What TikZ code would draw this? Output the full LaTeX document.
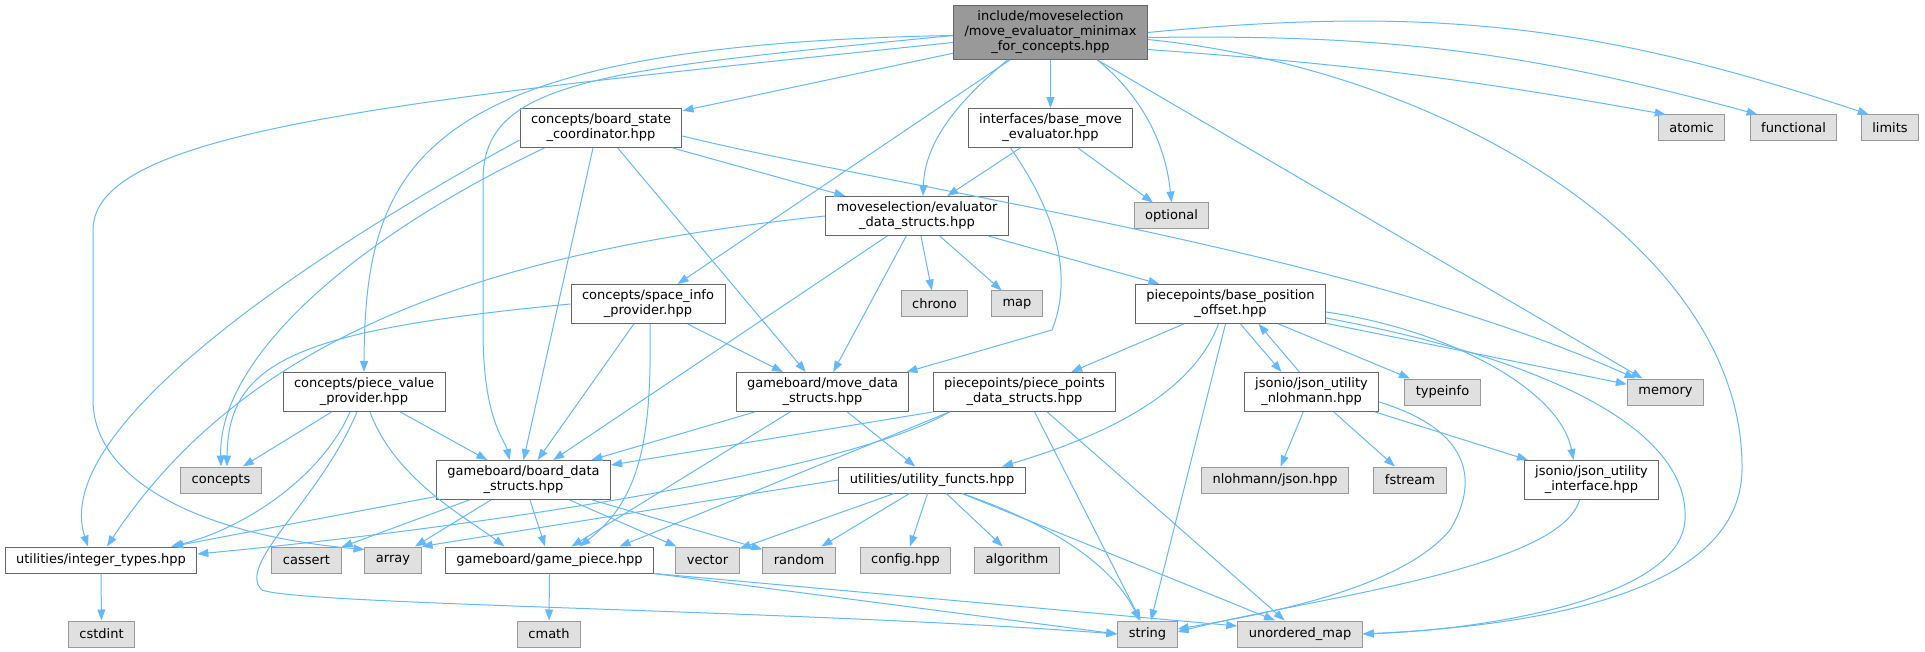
\documentclass[tikz,border=0pt]{standalone}
\usepackage{fontspec}
\setmainfont{DejaVu Sans}
\usetikzlibrary{arrows.meta}
\definecolor{steelblue}{HTML}{63B8FF}
\definecolor{grey40}{HTML}{666666}
\definecolor{grey60}{HTML}{999999}
\definecolor{grey90}{HTML}{E0E0E0}
\tikzstyle{header}=[draw=grey40,fill=white,line width=1pt,inner xsep=11pt,inner ysep=5.5pt,minimum height=26pt,align=center,font=\fontsize{13}{15}\selectfont]
\tikzstyle{sysheader}=[header,draw=grey60,fill=grey90]
\tikzstyle{rootheader}=[header,draw=grey40,fill=grey60]
\tikzstyle{incl}=[draw=steelblue,line width=1pt,-{Triangle[length=11pt,width=8pt]}]

\begin{document}
\begin{tikzpicture}[x=1pt,y=1pt]
    \useasboundingbox (0,0) rectangle (1925,-652);

    % project headers
    \node[rootheader] (root) at (1050.5,-32.5) {include/moveselection\\/move\_evaluator\_minimax\\\_for\_concepts.hpp};
    \node[header] (bsc) at (601,-128) {concepts/board\_state\\\_coordinator.hpp};
    \node[header] (bme) at (1050.5,-128) {interfaces/base\_move\\\_evaluator.hpp};
    \node[header] (eds) at (917,-216) {moveselection/evaluator\\\_data\_structs.hpp};
    \node[header] (sip) at (648,-304) {concepts/space\_info\\\_provider.hpp};
    \node[header] (bpo) at (1230.5,-304) {piecepoints/base\_position\\\_offset.hpp};
    \node[header] (pvp) at (364,-392) {concepts/piece\_value\\\_provider.hpp};
    \node[header] (mds) at (822.5,-392) {gameboard/move\_data\\\_structs.hpp};
    \node[header] (ppds) at (1024.5,-392) {piecepoints/piece\_points\\\_data\_structs.hpp};
    \node[header] (jun) at (1311.5,-392) {jsonio/json\_utility\\\_nlohmann.hpp};
    \node[header] (bds) at (523.5,-480) {gameboard/board\_data\\\_structs.hpp};
    \node[header] (uf) at (932,-480) {utilities/utility\_functs.hpp};
    \node[header] (jui) at (1591.5,-480) {jsonio/json\_utility\\\_interface.hpp};
    \node[header] (it) at (101,-560) {utilities/integer\_types.hpp};
    \node[header] (gp) at (549.5,-560) {gameboard/game\_piece.hpp};

    % system headers
    \foreach \pos/ \name / \label in {{(1691.5,-128)/atomic/atomic}, {(1793.5,-128)/functional/functional},
        {(1890,-128)/limits/limits}, {(1171.5,-216)/optional/optional}, {(934.5,-304)/chrono/chrono},
        {(1017,-304)/map/map}, {(1442.5,-392)/typeinfo/typeinfo}, {(1665.5,-392)/memory/memory},
        {(221,-480)/concepts/concepts}, {(1410,-480)/fstream/fstream},
        {(306.5,-560)/cassert/cassert}, {(393,-560)/array/array}, {(707.5,-560)/vector/vector},
        {(799,-560)/random/random}, {(905.5,-560)/config/config.hpp}, {(1017,-560)/algorithm/algorithm},
        {(101.5,-634)/cstdint/cstdint}, {(549,-634)/cmath/cmath}, {(1147.5,-634)/string/string},
        {(1300,-634)/umap/unordered\_map}}
        \node[sysheader] (\name) at \pos {\label};
    \node[sysheader] (njson) at (1275,-480) {nlohmann/json.hpp};

    % Connect headers with straight edges
    \foreach \source/ \dest in {root/bsc, root/bme, root/sip, root/memory, bsc/mds, bsc/eds, bme/eds, bme/optional,
        eds/bds, eds/mds, eds/chrono, eds/map, eds/bpo, sip/bds, sip/mds, pvp/concepts, pvp/bds,
        mds/bds, mds/gp, mds/uf, ppds/string, ppds/umap, bpo/ppds, bpo/string, bpo/typeinfo, bpo/memory,
        jun/njson, jun/fstream, jun/jui, uf/vector, uf/random, uf/config, uf/algorithm,
        bds/it, bds/cassert, bds/array, bds/gp, bds/vector, bds/random, gp/cmath, it/cstdint}
        \draw[incl] (\source) -- (\dest);

    % edges leaving the root
    \draw[incl] ([xshift=-43pt]root.south) .. controls (960,-100) and (925,-140) .. ([xshift=6pt]eds.north);
    \draw[incl] ([xshift=47pt]root.south) .. controls (1140,-95) and (1165,-140) .. (optional.north);
    \draw[incl] ([yshift=-3pt]root.west) .. controls (420,-45) and (365,-160) .. (pvp.north);
    \draw[incl] ([yshift=-3pt]root.west) .. controls (600,-70) and (483,-80) .. (483,-180) -- (483,-330)
        .. controls (483,-420) and (505,-440) .. ([xshift=-14pt]bds.north);
    \draw[incl] ([yshift=-10pt]root.west) .. controls (400,-100) and (93,-130) .. (93,-230) -- (93,-400)
        .. controls (93,-480) and (200,-535) .. ([yshift=-3pt]array.north west);
    \draw[incl] ([yshift=-17pt]root.east) to[bend left=3] ([xshift=8pt]atomic.north west);
    \draw[incl] ([yshift=-5pt]root.east) to[bend left=8] ([xshift=8pt]functional.north west);
    \draw[incl] ([yshift=0pt]root.east) to[bend left=12] ([xshift=8pt]limits.north west);
    \draw[incl] ([yshift=-7pt]root.east) .. controls (1450,-70) and (1745,-250) .. (1742,-470)
        .. controls (1740,-590) and (1550,-625) .. (umap.east);

    % curved edges between headers
    \draw[incl] ([yshift=-12pt]bsc.west) .. controls (300,-260) and (50,-430) .. ([xshift=-13pt]it.north);
    \draw[incl] ([xshift=25pt]bsc.south west) .. controls (350,-240) and (218,-360) .. (concepts.north);
    \draw[incl] ([xshift=-8pt]bsc.south) -- (bds.north);
    \draw[incl] ([yshift=-8pt]bsc.east) .. controls (880,-185) and (1350,-250) .. ([xshift=-30pt]memory.north);
    \draw[incl] ([xshift=-40pt]bme.south) .. controls (1068,-230) and (1068,-290) .. (1052,-330)
        -- ([xshift=-3pt]mds.north east);
    \draw[incl] (eds.west) .. controls (500,-250) and (250,-330) .. ([xshift=6pt]it.north);
    \draw[incl] (sip.west) .. controls (300,-330) and (228,-360) .. ([xshift=6pt]concepts.north);
    \draw[incl] ([xshift=2pt]sip.south) .. controls (652,-440) and (640,-500) .. ([xshift=30pt]gp.north);
    \draw[incl] ([xshift=-14pt]pvp.south) .. controls (320,-480) and (240,-530) .. ([xshift=70pt]it.north);
    \draw[incl] ([xshift=6pt]pvp.south) .. controls (395,-480) and (470,-520) .. ([xshift=-45pt]gp.north);
    \draw[incl] ([xshift=-7pt]pvp.south) .. controls (320,-500) and (235,-565) .. (262,-590)
        .. controls (300,-605) and (800,-610) .. (string.west);
    \draw[incl] (ppds.south west) -- ([yshift=15pt]bds.east);
    \draw[incl] ([xshift=-75pt]ppds.south) .. controls (850,-470) and (500,-525) .. ([yshift=6pt]it.east);
    \draw[incl] ([xshift=-75pt]ppds.south) -- ([xshift=70pt]gp.north);
    \draw[incl] ([xshift=-12pt]bpo.south) .. controls (1190,-400) and (1090,-440) .. ([xshift=70pt]uf.north);
    \draw[incl] ([xshift=10pt]bpo.south) -- ([xshift=-30pt]jun.north);
    \draw[incl] ([xshift=-12pt]jun.north) -- ([xshift=28pt]bpo.south);
    \draw[incl] ([yshift=-8pt]bpo.east) .. controls (1450,-330) and (1560,-390) .. ([xshift=-18pt]jui.north);
    \draw[incl] ([yshift=-14pt]bpo.east) .. controls (1550,-360) and (1690,-430) .. (1685,-520)
        .. controls (1680,-600) and (1480,-630) .. (umap.east);
    \draw[incl] ([yshift=-10pt]jun.east) .. controls (1470,-430) and (1480,-480) .. (1450,-530)
        .. controls (1400,-590) and (1260,-615) .. ([yshift=5pt]string.east);
    \draw[incl] ([xshift=-12pt]jui.south) .. controls (1560,-570) and (1300,-600) .. ([yshift=2pt]string.east);
    \draw[incl] ([xshift=30pt]uf.south) .. controls (1040,-520) and (1110,-560) .. ([xshift=-8pt]string.north);
    \draw[incl] ([xshift=30pt]uf.south) -- ([xshift=-25pt]umap.north);
    \draw[incl] (uf.west) -- (array.north east);
    \draw[incl] (gp.south east) -- (string.west);
    \draw[incl] (gp.south east) -- ([yshift=8pt]umap.west);
\end{tikzpicture}
\end{document}
